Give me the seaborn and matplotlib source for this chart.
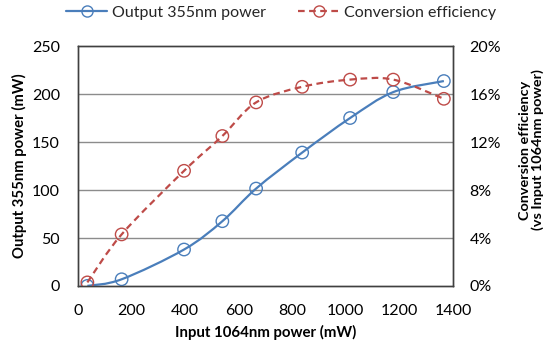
import numpy as np
import pandas as pd
import seaborn as sns
import matplotlib
matplotlib.use("Agg")
import matplotlib.pyplot as plt
from matplotlib.path import Path
from matplotlib.patches import PathPatch
from matplotlib.lines import Line2D
from matplotlib.ticker import FuncFormatter

# Measured data
input_power_mw = [35, 163, 396, 539, 665, 837, 1016, 1177, 1366]
output_355_mw = [0.1, 7, 38, 67.5, 101.5, 139, 175, 202, 213.5]
efficiency = [0.003, 0.043, 0.096, 0.125, 0.153, 0.166, 0.172, 0.172, 0.156]

x_ticks = [0, 200, 400, 600, 800, 1000, 1200, 1400]
left_ticks = [0, 50, 100, 150, 200, 250]
right_ticks = [0.0, 0.04, 0.08, 0.12, 0.16, 0.20]

BLUE = "#4A7EBB"
RED = "#BE4B48"
TEXT = "#000000"
FS = 11.5

sns.set_theme(style="white")
plt.rcParams["font.family"] = ["Lato", "DejaVu Sans"]

df = pd.DataFrame({"inp": input_power_mw, "out": output_355_mw, "eff": efficiency})


def smooth_path(xs, ys):
    """Cubic Bezier path through the points (Catmull-Rom style smoothing)."""
    pts = np.column_stack([xs, ys]).astype(float)
    n = len(pts)
    verts = [pts[0]]
    codes = [Path.MOVETO]
    for i in range(n - 1):
        p0 = pts[i - 1] if i > 0 else pts[i]
        p1 = pts[i]
        p2 = pts[i + 1]
        p3 = pts[i + 2] if i + 2 < n else pts[i + 1]
        c1 = p1 + (p2 - p0) / 6.0
        c2 = p2 - (p3 - p1) / 6.0
        verts += [c1, c2, p2]
        codes += [Path.CURVE4] * 3
    return Path(verts, codes)


fig = plt.figure(figsize=(5.48, 3.47), dpi=100)
ax = fig.add_axes([0.1423, 0.1758, 0.6843, 0.6916])
ax2 = ax.twinx()

# Output power (left axis)
ax.add_patch(PathPatch(smooth_path(df["inp"], df["out"]), facecolor="none",
                       edgecolor=BLUE, lw=1.6, zorder=3))
sns.scatterplot(data=df, x="inp", y="out", ax=ax, marker="o", s=80,
                facecolor="none", edgecolor=BLUE, linewidth=1.0, zorder=4)

# Conversion efficiency (right axis)
ax2.add_patch(PathPatch(smooth_path(df["inp"], df["eff"]), facecolor="none",
                        edgecolor=RED, lw=1.6, ls=(0, (3, 2)), zorder=3))
sns.scatterplot(data=df, x="inp", y="eff", ax=ax2, marker="o", s=80,
                facecolor="none", edgecolor=RED, linewidth=1.0, zorder=4)

ax.set_xlim(0, 1400)
ax.set_ylim(0, 250)
ax2.set_ylim(0, 0.20)
ax.set_xticks(x_ticks)
ax.set_yticks(left_ticks)
ax2.set_yticks(right_ticks)
ax2.yaxis.set_major_formatter(FuncFormatter(lambda v, p: f"{v*100:.0f}%"))

for yv in left_ticks[1:-1]:
    ax.axhline(yv, color="#8C8C8C", lw=1.0, zorder=1)

for a in (ax, ax2):
    for sp in a.spines.values():
        sp.set_color("#404040")
        sp.set_linewidth(1.0)

ax.tick_params(axis="x", direction="in", length=5, width=1, color="#404040",
               labelsize=FS, pad=13, labelcolor=TEXT)
ax.tick_params(axis="y", length=0, labelsize=FS, pad=13, labelcolor=TEXT)
ax2.tick_params(axis="y", length=0, labelsize=FS, pad=12, labelcolor=TEXT)

ax.set_xlabel("Input 1064nm power (mW)", fontsize=10.8, fontweight="bold",
              labelpad=5, color=TEXT)
ax.set_ylabel("Output 355nm power (mW)", fontsize=10.7, fontweight="bold",
              color=TEXT, va="center", ha="center")
ax.yaxis.set_label_coords(-0.155, 0.5)
ax2.set_ylabel("Conversion efficiency\n(vs Input 1064nm power)", fontsize=10.4,
               fontweight="bold", color=TEXT, rotation=90,
               va="center", ha="center", linespacing=1.0)
ax2.yaxis.set_label_coords(1.21, 0.567)

handles = [
    Line2D([], [], color=BLUE, lw=1.6, marker="o", markersize=8,
           markerfacecolor="none", markeredgecolor=BLUE),
    Line2D([], [], color=RED, lw=1.6, ls=(0, (3, 2)), marker="o", markersize=8,
           markerfacecolor="none", markeredgecolor=RED),
]
fig.legend(handles, ["Output 355nm power", "Conversion efficiency"],
           loc="upper center", bbox_to_anchor=(0.513, 1.025), ncol=2,
           frameon=False, fontsize=FS, handlelength=2.6, columnspacing=2.0,
           handletextpad=0.3)

fig.savefig("out.png", dpi=100)
